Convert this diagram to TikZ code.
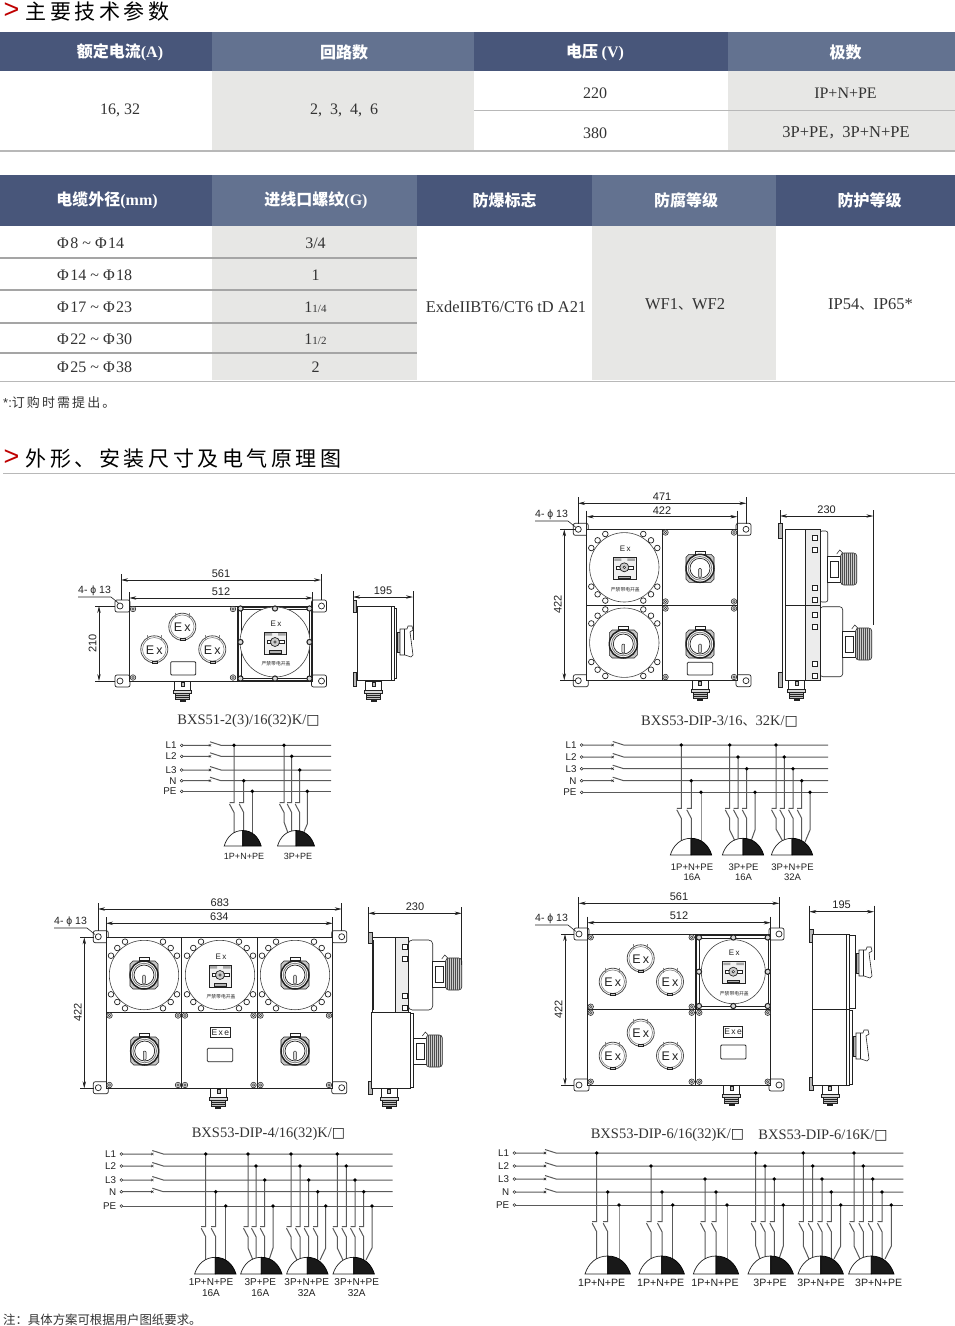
\documentclass[tikz,border=0pt]{standalone}
\usepackage{fontspec}
\setmainfont{Liberation Serif}
\newfontfamily\lsans{Liberation Sans}
\newfontfamily\cjk{Noto Sans CJK SC}
\newfontfamily\cjkt[LetterSpace=17]{Noto Sans CJK SC}
\newfontfamily\cjkn[LetterSpace=16]{Noto Sans CJK SC}
\newfontfamily\dvu{DejaVu Sans}
\usetikzlibrary{arrows.meta}
\definecolor{hdark}{HTML}{48567A}
\definecolor{hlite}{HTML}{637290}
\definecolor{cgrey}{HTML}{E7E7E5}
\definecolor{rule}{HTML}{B8B8B8}
\definecolor{wire}{HTML}{5A5A5A}
\definecolor{ink}{HTML}{222222}
\definecolor{txt}{HTML}{333333}
\newcommand\fs[1]{\fontsize{#1}{#1}\selectfont}
\newcount\nid
\newcommand\lab[4][]{\global\advance\nid by 1 \node[inner sep=0pt,#1] (n\the\nid) at (#2,#3) {#4};}
\newcommand\cell[8]{\fill[#6] (#2,#3) rectangle (#4,#5);
  \node[#7] (#1) at ({(#2+#4)/2},{(#3+#5)/2}) {#8};}
\newcommand\hd[2]{{\cjk\bfseries #1}{\bfseries #2}}
\newcommand\boxsq{{\dvu\color{ink}\fontsize{14}{14}\selectfont □}}
\newcommand\ph{Φ\kern1.5pt}
\tikzset{
  hdt/.style={text=white,inner sep=0pt,font=\fs{16}},
  bdt/.style={text=txt,inner sep=0pt,font=\fs{16}},
  bdl/.style={text=txt,inner sep=0pt,font=\fs{16.5}},
  rowt/.style={text=txt,inner sep=0pt,font=\fs{16},anchor=west,xshift=-49pt,yshift=-1pt},
  dl/.style={line width=.6pt,draw=ink},
  da/.style={line width=.6pt,draw=ink,{Stealth[length=7pt,width=3.4pt]}-{Stealth[length=7pt,width=3.4pt]}},
  dimt/.style={font=\lsans\fs{11},text=ink},
  capt/.style={font=\fs{14.5},text=txt,yshift=-1.6pt},
  part/.style={line width=.7pt,draw=ink,fill=white},
  wr/.style={line width=1pt,draw=wire},
  wl/.style={font=\lsans\fs{9.8},text=ink,anchor=east},
  wt/.style={font=\lsans\fs{9},text=ink},
}
% --- drawing parts
\newcommand\ear[3]{\draw[part,rounded corners=2pt] ({#1-5*#3},{#2-6}) rectangle ({#1+10*#3},{#2+6});
  \draw[part] (#1,#2) circle[radius=3pt];}
\newcommand\screw[2]{\draw[line width=.5pt,draw=ink,fill=gray!40] (#1,#2) circle[radius=2.8pt];
  \draw[line width=.4pt,draw=ink,fill=white] (#1,#2) circle[radius=1.2pt];}
\newcommand\bolt[2]{\draw[line width=1pt,draw=ink,fill=gray!30] (#1,#2) circle[radius=2.6pt];}
\newcommand\ring[2]{\foreach \dx/\dy in {-19/-33.3,19/-33.3,-26.7/-27,26.7/-27,-33/-19.3,33/-19.3,-33/19.3,33/19.3,-26.7/27,26.7/27,-19/33.3,19/33.3}
  {\draw[line width=.7pt,draw=ink,fill=white] ({#1+\dx},{#2+\dy}) circle[radius=2.8pt];}}
\newcommand\disc[3]{\draw[line width=.6pt,draw=ink!85,fill=white] (#1,#2) circle[radius=#3pt];}
\newcommand\exsock[2]{\begin{scope}[shift={(#1,#2)}]
  \draw[line width=.8pt,draw=ink!80,fill=white] (0,0) circle[radius=13.5pt];
  \draw[line width=.6pt,draw=gray] (0,0) circle[radius=11.8pt];
  \draw[line width=.9pt,draw=gray] (-7,-14)--(-7,-9) (7,-14)--(7,-9);
  \draw[line width=.5pt,draw=ink,fill=gray!40] (-2.5,11.5) rectangle (2.5,14);
  \lab{0}{0.5}{\lsans\fs{12.5}\color{ink}E\,x}
\end{scope}}
\newcommand\rotsw[2]{\begin{scope}[shift={(#1,#2)}]
  \draw[line width=.6pt,draw=ink,fill=gray!45] (-11,-14)--(11,-14)--(14,-11)--(14,11)--(11,14)--(-11,14)--(-14,11)--(-14,-11)--cycle;
  \draw[line width=.5pt,draw=ink,fill=white] (-5,-17.5) rectangle (5,-14.5);
  \draw[line width=1.5pt,draw=ink,fill=white] (0,0) circle[radius=14pt];
  \draw[line width=.9pt,draw=gray] (0,0) circle[radius=11.8pt];
  \draw[line width=.7pt,draw=ink] (0,0) circle[radius=10pt];
  \draw[line width=.5pt,draw=ink,fill=gray!30,rounded corners=1pt] (-1.4,0) rectangle (1.4,9);
\end{scope}}
\newcommand\isol[2]{\begin{scope}[shift={(#1,#2)}]
  \lab{1}{-18.5}{\lsans\fs{8}\color{ink}E\,x}
  \draw[line width=.6pt,draw=ink,fill=gray!12] (-11,-10) rectangle (11.5,12);
  \fill[gray!70] (-10,-9) rectangle (-3,-6.5) (3,-9) rectangle (10.5,-6.5);
  \draw[line width=.6pt,draw=ink,fill=white] (-8,-1.5)--(9,-1.5)--(9,1.5)--(-8,1.5)--cycle;
  \draw[line width=.7pt,draw=ink,fill=gray!40] (0,0) circle[radius=4.5pt];
  \draw[line width=.5pt,draw=ink,fill=white] (0,0) circle[radius=1.3pt];
  \draw[line width=.5pt,draw=ink,fill=gray!60] (-6,8.5) rectangle (6,11);
  \lab{1}{22}{\cjk\fs{4.8}\color{ink}严禁带电开盖}
\end{scope}}
\newcommand\plate[4]{\draw[line width=.8pt,draw=ink,fill=white,rounded corners=1pt] (#1,#2) rectangle (#3,#4);}
\newcommand\exe[2]{\draw[line width=.7pt,draw=ink,fill=white] ({#1-9.7},{#2-5.2}) rectangle ({#1+9.7},{#2+5.2});
  \lab{#1}{#2}{\lsans\fs{8.5}\color{ink}E\,x\,e}}
\newcommand\gland[2]{\begin{scope}[shift={(#1,#2)}]
  \draw[part] (-8,0) rectangle (8,9);
  \draw[line width=.5pt,draw=ink,fill=gray!50] (-1.5,1) rectangle (1.5,5);
  \draw[line width=.5pt,draw=ink,fill=gray!30] (-9,9) rectangle (9,12);
  \draw[line width=.5pt,draw=ink,fill=gray!50] (-7,12) rectangle (7,18);
  \draw[line width=.5pt,draw=ink] (-7,14)--(7,14) (-7,16)--(7,16);
  \fill[ink] (-3,18) rectangle (3,21);
\end{scope}}
\newcommand\bigplug[2]{\begin{scope}[shift={(#1,#2)}]
  \draw[part] (0,-13) rectangle (13,13);
  \draw[line width=.5pt,draw=ink] (3,-8) rectangle (11,8);
  \draw[line width=.5pt,draw=ink,fill=white] (9,-15)--(12,-19)--(15,-16);
  \draw[line width=.6pt,draw=ink,fill=gray!40,rounded corners=3pt] (13,-16) rectangle (29,16);
  \foreach \q in {15,17,...,27}{\draw[line width=.7pt,draw=ink!80] (\q,-16)--(\q,16);}
\end{scope}}
\newcommand\flatplug[2]{\begin{scope}[shift={(#1,#2)}]
  \draw[line width=.5pt,draw=ink,fill=gray!60] (0,-10) rectangle (3,10);
  \draw[line width=.6pt,draw=ink,fill=white] (3,-13)--(10,-13)--(11,-16)--(15,-16)--(16,-12)--(13,-10)--(16,13)--(14,15)--(8,13)--(3,13)--cycle;
  \draw[line width=.5pt,draw=ink] (7,-13)--(7,13);
\end{scope}}
\newcommand\sidetab[3]{\draw[line width=.5pt,draw=ink,fill=gray!55] (#1,#2) rectangle ({#1+3.6},#3);}
\newcommand\hdim[6]{\draw[dl] (#1,{#3-6})--(#1,#4) (#2,{#3-6})--(#2,#5);
  \draw[da] (#1,#3)--(#2,#3); \lab[dimt]{{(#1+#2)/2}}{{#3-6.5}}{#6}}
\newcommand\vdim[5]{\draw[dl] ({#1-4},#2)--(#4,#2) ({#1-4},#3)--(#4,#3);
  \draw[da] (#1,#2)--(#1,#3); \lab[dimt,rotate=90]{{#1-6.5}}{{(#2+#3)/2}}{#5}}
\newcommand\leader[3]{\lab[dimt,anchor=west,font=\lsans\fs{10.5}]{#1}{{#2-6.5}}{4- ϕ 13}
  \draw[dl] (#1,#2)--({#1+33},#2)--({#1+41},{#2+6.5});}
% --- wiring parts
\newcommand\bus[5]{% y label xc xs xe
  \lab[wl]{{#3-5}}{#1}{#2}
  \draw[line width=.5pt,draw=ink] (#3,#1) circle[radius=1.4pt];
  \draw[wr] ({#3+1.4},#1)--(#4,#1) (#4,{#1-3.5})--({#4+11},#1)--(#5,#1);
  \draw[line width=.4pt,draw=ink] ({#4-1.2},{#1-1.2})--({#4+1.2},{#1+1.2}) ({#4-1.2},{#1+1.2})--({#4+1.2},{#1-1.2});}
\newcommand\busp[4]{% y label xc xe
  \lab[wl]{{#3-5}}{#1}{#2}
  \draw[line width=.5pt,draw=ink] (#3,#1) circle[radius=1.4pt];
  \draw[wr] ({#3+1.4},#1)--(#4,#1);}
\newcommand\sw[6]{\draw[wr] (#1,#2)--(#1,#3)--({#1-4.5},#3) ({#1-4.5},{#3+1.5})--(#1,{#3+10})--(#1,#4)--(#5,#6);
  \fill[black] (#1,#2) circle[radius=1.9pt];}
\newcommand\pe[5]{\draw[wr] (#1,#2)--(#1,#3)--(#4,#5); \fill[black] (#1,#2) circle[radius=1.9pt];}
\newcommand\dome[4]{\draw[line width=.7pt,draw=ink,fill=white] ({#1-#3},#2) .. controls ({#1-#3*.85},{#2-#4*.6}) and ({#1-#3*.5},{#2-#4}) .. (#1,{#2-#4})--(#1,#2)--cycle;
  \draw[line width=.7pt,draw=black,fill=black!90] ({#1+#3},#2) .. controls ({#1+#3*.85},{#2-#4*.6}) and ({#1+#3*.5},{#2-#4}) .. (#1,{#2-#4})--(#1,#2)--cycle;}
\begin{document}
\begin{tikzpicture}[x=1pt,y=-1pt]
\useasboundingbox (0,0) rectangle (955,1326);
\fill[white] (0,0) rectangle (955,1326);
%%% title 1
\node[font=\lsans\fs{27},text=red!75!black,inner sep=0pt] (gt1) at (11.5,11) {>};
\node[font=\cjkt\fs{21},text=black,inner sep=0pt,anchor=west] (t1) at (25.5,11.5) {主要技术参数};
%%% table 1
\cell{a1}{0}{32}{212}{71}{hdark}{hdt,xshift=14pt,yshift=-1pt}{\hd{额定电流}{(A)}}
\cell{a2}{212}{32}{474}{71}{hlite}{hdt,xshift=1pt,yshift=-1pt}{\hd{回路数}{}}
\cell{a3}{474}{32}{728}{71}{hdark}{hdt,xshift=-6pt,yshift=-1pt}{\hd{电压 }{(V)}}
\cell{a4}{728}{32}{955}{71}{hlite}{hdt,xshift=4pt,yshift=-1pt}{\hd{极数}{}}
\cell{b1}{0}{71}{212}{150}{white}{bdt,xshift=14pt}{16, 32}
\cell{b2}{212}{71}{474}{150}{cgrey}{bdt,xshift=1pt}{2,\ \ 3,\ \ 4,\ \ 6}
\cell{b3}{474}{71}{728}{110}{white}{bdt,xshift=-6pt,yshift=-2.5pt}{220}
\cell{b4}{728}{71}{955}{110}{cgrey}{bdt,xshift=4pt,yshift=-2.5pt}{IP+N+PE}
\cell{c3}{474}{111}{728}{150}{white}{bdt,xshift=-6pt,yshift=-2.5pt}{380}
\cell{c4}{728}{111}{955}{150}{cgrey}{bdl,xshift=4.5pt,yshift=-2.5pt}{3P+PE{\cjk\fs{14}，}3P+N+PE}
\draw[rule,line width=1pt] (474,110.5)--(955,110.5);
\draw[rule,line width=1.3pt] (0,151)--(955,151);
%%% table 2
\cell{d1}{0}{175}{212}{226}{hdark}{hdt,xshift=1pt}{\hd{电缆外径}{(mm)}}
\cell{d2}{212}{175}{417}{226}{hlite}{hdt,xshift=1.5pt}{\hd{进线口螺纹}{(G)}}
\cell{d3}{417}{175}{592}{226}{hdark}{hdt}{\hd{防爆标志}{}}
\cell{d4}{592}{175}{776}{226}{hlite}{hdt,xshift=2pt}{\hd{防腐等级}{}}
\cell{d5}{776}{175}{955}{226}{hdark}{hdt,xshift=4pt}{\hd{防护等级}{}}
\cell{e1}{0}{226}{212}{258}{white}{rowt}{\ph 8 \textasciitilde{} \ph 14}
\cell{f1}{0}{258}{212}{290}{white}{rowt}{\ph 14 \textasciitilde{} \ph 18}
\cell{g1}{0}{290}{212}{323}{white}{rowt}{\ph 17 \textasciitilde{} \ph 23}
\cell{h1}{0}{323}{212}{353}{white}{rowt}{\ph 22 \textasciitilde{} \ph 30}
\cell{i1}{0}{353}{212}{380}{white}{rowt}{\ph 25 \textasciitilde{} \ph 38}
\cell{e2}{212}{226}{417}{258}{cgrey}{bdt,xshift=1pt,yshift=-1pt}{3/4}
\cell{f2}{212}{258}{417}{290}{cgrey}{bdt,xshift=1pt,yshift=-1pt}{1}
\cell{g2}{212}{290}{417}{323}{cgrey}{bdt,xshift=1pt,yshift=-1pt}{1{\fs{11}1/4}}
\cell{h2}{212}{323}{417}{353}{cgrey}{bdt,xshift=1pt,yshift=-1pt}{1{\fs{11}1/2}}
\cell{i2}{212}{353}{417}{380}{cgrey}{bdt,xshift=1pt,yshift=-1pt}{2}
\cell{e3}{417}{226}{592}{380}{white}{bdt,font=\fs{16.4},xshift=1.5pt,yshift=-3.5pt}{ExdeIIBT6/CT6 tD A21}
\cell{e4}{592}{226}{776}{380}{cgrey}{bdl,xshift=1pt,yshift=-1.5pt}{WF1{\cjk\fs{14}、}WF2}
\cell{e5}{776}{226}{955}{380}{white}{bdl,xshift=5pt,yshift=-1.5pt}{IP54{\cjk\fs{14}、}IP65*}
\foreach \yy in {258,290,323,353}{\draw[rule!90!black,line width=1.2pt] (0,\yy)--(417,\yy);}
\draw[rule,line width=1pt] (0,381)--(955,381);
\node[font=\cjkn\fs{13},text=txt,inner sep=0pt,anchor=west] (note1) at (3,402.5) {{\lsans *:}订购时需提出。};
%%% title 2
\node[font=\lsans\fs{27},text=red!75!black,inner sep=0pt] (gt2) at (11.5,458) {>};
\node[font=\cjkt\fs{21},text=black,inner sep=0pt,anchor=west] (t2) at (25.5,458.5) {外形、安装尺寸及电气原理图};
\draw[rule,line width=1pt] (3,473.5)--(955,473.5);

%%%%%%%%% Drawing 1
\ear{120}{606}{1}\ear{321.5}{606}{-1}\ear{120}{681}{1}\ear{321.5}{681}{-1}
\gland{182.7}{681}
\draw[line width=.9pt,draw=ink,fill=white] (129.3,606) rectangle (312.7,681);
\draw[line width=.9pt,draw=ink] (237,606)--(237,681);
\draw[line width=1.4pt,draw=ink] (238.5,607) rectangle (312,680.5);
\draw[line width=.5pt,draw=ink] (241,609) rectangle (309,678);
\disc{275}{642}{35}
\foreach \q/\r in {240.5/608.5,275/608.5,309.5/608.5,240.5/642,309.5/642,240.5/678.5,275/678.5,309.5/678.5}{\bolt{\q}{\r}}
\screw{133}{609}\screw{233}{609}\screw{133}{677.5}\screw{233}{677.5}
\isol{275}{642}
\exsock{182.3}{626.7}\exsock{154.3}{649.3}\exsock{212.3}{649.3}
\plate{170.7}{661.7}{195.7}{675}
\hdim{121}{321}{580}{600}{600}{561}
\hdim{129.3}{312.7}{598}{606}{606}{512}
\vdim{99}{606}{681}{115}{210}
\leader{78}{597}{}
% side 1
\sidetab{353}{600}{612}\sidetab{353}{672}{686}
\gland{373.5}{681}
\draw[part] (357,606) rectangle (394,680);
\draw[line width=.5pt,draw=ink] (391,606)--(391,680);
\draw[line width=.5pt,draw=ink,fill=white] (394,608) rectangle (396.5,678);
\flatplug{397}{642}
\hdim{353}{413}{597}{600}{640}{195}
\node[capt] (cap1) at (248.5,719) {BXS51-2(3)/16(32)K/\boxsq};
%%% Wiring 1
\bus{745.3}{L1}{181.7}{210}{331}\bus{756.3}{L2}{181.7}{210}{331}\bus{770}{L3}{181.7}{210}{331}\bus{780.7}{N}{181.7}{210}{331}\busp{791.3}{PE}{181.7}{331}
\sw{234}{745.3}{802.5}{832}{234}{833}\sw{243.7}{780.7}{802.5}{832}{243.7}{833}\pe{252.3}{791.3}{832}{252.3}{833}
\sw{284}{745.3}{802.5}{822}{288}{833}\sw{291.7}{756.3}{802.5}{832}{291.7}{833}\sw{299.7}{770}{802.5}{832}{299.7}{833}\pe{307.3}{791.3}{824}{303}{834}
\dome{242.7}{846}{18.5}{15.5}\dome{296}{846}{18.5}{15.5}
\lab[wt]{244}{856.5}{1P+N+PE}\lab[wt]{298}{856.5}{3P+PE}

%%%%%%%%% Drawing 2
\ear{578.3}{529.3}{1}\ear{746}{529.3}{-1}\ear{578.3}{680.7}{1}\ear{746}{680.7}{-1}
\gland{700}{680.3}
\draw[line width=.9pt,draw=ink,fill=white] (586.7,529.3) rectangle (737.3,680.3);
\draw[line width=.9pt,draw=ink] (662,529.3)--(662,680.3) (586.7,605)--(737.3,605);
\disc{624.3}{567.3}{34.7}\disc{624.3}{642.7}{34.7}
\ring{624.3}{567.3}\ring{624.3}{642.7}
\isol{624.3}{567.3}
\rotsw{700}{568.3}\rotsw{623.3}{644}\rotsw{700}{644}
\foreach \q/\r in {665.5/532.5,734/532.5,665.5/601.5,734/601.5,665.5/608.5,734/608.5,665.5/677,734/677}{\screw{\q}{\r}}
\plate{687.3}{662.3}{712.7}{675}
\hdim{578}{746.3}{503.3}{524}{524}{471}
\hdim{586.7}{737.3}{516.7}{529}{529}{422}
\vdim{564.3}{529.3}{680.3}{575}{422}
\leader{535}{521}{}
% side 2
\sidetab{778.3}{523}{538}\sidetab{778.3}{672}{687}
\gland{796.5}{680.3}
\draw[part] (785,529.3) rectangle (805.5,680.3);
\draw[line width=.5pt,draw=ink] (785,605)--(820,605);
\draw[line width=.5pt,draw=ink] (782,533)--(782,676);
\draw[line width=.6pt,draw=ink,fill=white,rounded corners=2pt] (820,531) rectangle (827.7,602);
\draw[line width=.6pt,draw=ink,fill=white,rounded corners=3pt] (820,606.7) rectangle (842.7,676.7);
\draw[line width=.9pt,draw=ink,fill=gray!15] (805.5,529.3) rectangle (820,605);
\draw[line width=.9pt,draw=ink,fill=gray!15] (805.5,605) rectangle (820,680.3);
\foreach \r in {535,547,585,597,612,624,661,673}{\draw[line width=.5pt,draw=ink,fill=white] (812,\r) rectangle (817,{\r+5});}
\bigplug{827.7}{569}\bigplug{842.7}{644}
\hdim{780}{873.3}{516}{524}{625}{230}
\node[capt] (cap2) at (719.5,720) {BXS53-DIP-3/16{\cjk\fs{13}、}32K/\boxsq};
%%% Wiring 2
\tikzset{wt/.style={font=\lsans\fs{9.5},text=ink}}
\bus{745}{L1}{581.7}{612.7}{828}\bus{757}{L2}{581.7}{612.7}{828}\bus{768.7}{L3}{581.7}{612.7}{828}\bus{780.7}{N}{581.7}{612.7}{828}\busp{792.3}{PE}{581.7}{828}
\sw{681.3}{745}{808.3}{842}{681.3}{843}\sw{691.3}{780.7}{808.3}{842}{691.3}{843}\pe{701}{792.3}{842}{701}{843}
\sw{729.7}{745}{808.3}{830}{735}{841}\sw{738}{757}{808.3}{842}{738}{843}\sw{746.7}{768.7}{808.3}{842}{746.7}{843}\pe{755}{792.3}{830}{750.7}{842}
\sw{776}{745}{808.3}{829}{782.7}{841}\sw{784.3}{757}{808.3}{842}{784.3}{843}\sw{793}{768.7}{808.3}{842}{793}{843}\sw{801.7}{780.7}{808.3}{838}{801}{843}\pe{810}{792.3}{830}{805}{842}
\dome{691}{855}{20.7}{16.7}\dome{743}{855}{20.7}{16.7}\dome{792}{855}{20.7}{16.7}
\lab[wt]{692}{867}{1P+N+PE}\lab[wt]{692}{877.5}{16A}
\lab[wt]{743.5}{867}{3P+PE}\lab[wt]{743.5}{877.5}{16A}
\lab[wt]{792.5}{867}{3P+N+PE}\lab[wt]{792.5}{877.5}{32A}

%%%%%%%%% Drawing 3
\ear{98.3}{936.7}{1}\ear{341.7}{936.7}{-1}\ear{98.3}{1087.7}{1}\ear{341.7}{1087.7}{-1}
\gland{218.3}{1088.3}
\draw[line width=.9pt,draw=ink,fill=white] (106,937.3) rectangle (332.7,1088.3);
\draw[line width=.9pt,draw=ink] (181.7,937.3)--(181.7,1088.3) (257.3,937.3)--(257.3,1088.3);
\draw[line width=1.2pt,draw=ink] (106,1012.3)--(332.7,1012.3);
\disc{144}{975}{34.7}\disc{220}{975}{34.7}\disc{295}{975}{34.7}
\ring{144}{975}\ring{220}{975}\ring{295}{975}
\rotsw{144}{975}\rotsw{295}{975}\isol{220}{975}
\rotsw{144.7}{1051}\rotsw{295}{1051}
\foreach \q/\r in {109.5/1015.5,178/1015.5,185/1015.5,253.5/1015.5,260.5/1015.5,329/1015.5,109.5/1085,178/1085,185/1085,253.5/1085,260.5/1085,329/1085}{\screw{\q}{\r}}
\exe{220.3}{1032.5}
\plate{207.3}{1048.3}{232.7}{1061.7}
\hdim{98}{341.7}{909}{931}{931}{683}
\hdim{106}{332.7}{923.3}{937}{937}{634}
\vdim{84.3}{937.3}{1088.3}{94}{422}
\leader{54}{928}{}
% side 3
\sidetab{368.3}{932}{943}\sidetab{368.3}{1081}{1094}
\gland{389}{1088.3}
\draw[part] (372,937.3) rectangle (395,1012.3);
\draw[line width=.5pt,draw=ink] (373.5,940)--(373.5,1010);
\draw[line width=.6pt,draw=ink,fill=white,rounded corners=4pt] (408.3,940) rectangle (432.7,1010);
\draw[line width=.9pt,draw=ink,fill=gray!15] (395,937.3) rectangle (408.3,1012.3);
\foreach \r in {944,956,993,1005}{\draw[line width=.5pt,draw=ink,fill=white] (402,\r) rectangle (407,{\r+5});}
\draw[part] (371.7,1012.3) rectangle (410,1088.3);
\draw[line width=.6pt,draw=ink,fill=white] (410,1013) rectangle (413.3,1087);
\bigplug{432.7}{974}\bigplug{413.3}{1051}
\hdim{368.3}{461.7}{913.3}{932}{965}{230}
\node[capt] (cap3) at (268.5,1132) {BXS53-DIP-4/16(32)K/\boxsq};
%%% Wiring 3
\tikzset{wt/.style={font=\lsans\fs{10},text=ink}}
\bus{1154}{L1}{121.3}{152.3}{392.7}\bus{1166}{L2}{121.3}{152.3}{392.7}\bus{1180}{L3}{121.3}{152.3}{392.7}\bus{1191.7}{N}{121.3}{152.3}{392.7}\busp{1206}{PE}{121.3}{392.7}
\sw{205.7}{1154}{1226.7}{1262}{205.7}{1263}\sw{215.7}{1191.7}{1226.7}{1262}{215.7}{1263}\pe{225.7}{1206}{1262}{225.7}{1263}
\sw{248}{1154}{1226.7}{1248}{253}{1260}\sw{256}{1166}{1226.7}{1262}{256}{1263}\sw{264.7}{1180}{1226.7}{1262}{264.7}{1263}\pe{273}{1206}{1248}{269}{1260}
\sw{291}{1154}{1226.7}{1248}{297}{1260}\sw{300}{1166}{1226.7}{1262}{300}{1263}\sw{308.7}{1180}{1226.7}{1262}{308.7}{1263}\sw{317.7}{1191.7}{1226.7}{1258}{317}{1263}\pe{325.7}{1206}{1248}{320}{1260}
\sw{337.3}{1154}{1226.7}{1248}{343}{1260}\sw{346.3}{1166}{1226.7}{1262}{346.3}{1263}\sw{355}{1180}{1226.7}{1262}{355}{1263}\sw{363.7}{1191.7}{1226.7}{1258}{363}{1263}\pe{372}{1206}{1248}{366}{1260}
\dome{215.3}{1274}{20.7}{16.7}\dome{261.3}{1274}{20.7}{16.7}\dome{307.3}{1274}{20.7}{16.7}\dome{353.7}{1274}{20.7}{16.7}
\lab[wt]{211}{1282}{1P+N+PE}\lab[wt]{211}{1293}{16A}
\lab[wt]{260.3}{1282}{3P+PE}\lab[wt]{260.3}{1293}{16A}
\lab[wt]{306.7}{1282}{3P+N+PE}\lab[wt]{306.7}{1293}{32A}
\lab[wt]{356.7}{1282}{3P+N+PE}\lab[wt]{356.7}{1293}{32A}

%%%%%%%%% Drawing 4
\ear{579}{934}{1}\ear{779}{934}{-1}\ear{579}{1085}{1}\ear{779}{1085}{-1}
\gland{731.7}{1085}
\draw[line width=.9pt,draw=ink,fill=white] (587.3,934) rectangle (770.7,1085);
\draw[line width=.9pt,draw=ink] (695.7,1009.3)--(695.7,1085);
\draw[line width=1pt,draw=ink] (587.3,1009.3)--(770.7,1009.3);
\draw[line width=1.4pt,draw=ink] (696,935) rectangle (770.7,1009.3);
\draw[line width=.5pt,draw=ink] (699,938) rectangle (768,1006.5);
\disc{733.3}{971.7}{32}
\foreach \q/\r in {699/937.5,733.3/937.5,767.7/937.5,699/971.7,767.7/971.7,699/1006,733.3/1006,767.7/1006}{\bolt{\q}{\r}}
\isol{733.3}{971.7}
\foreach \q/\r in {590.7/937.3,691.7/937.3,590.7/1006.7,691.7/1006.7,590.7/1012.7,691.7/1012.7,590.7/1081.7,691.7/1081.7,699.3/1012.7,767.7/1012.7,699.3/1081.7,767.7/1081.7}{\screw{\q}{\r}}
\exsock{640.7}{958.3}\exsock{612.7}{981.7}\exsock{670}{981.7}
\exsock{640.7}{1032.7}\exsock{612.7}{1055.7}\exsock{670}{1055.7}
\exe{733}{1032}
\plate{720.7}{1045}{746}{1059}
\hdim{578.7}{779.3}{903.3}{928}{928}{561}
\hdim{587.3}{770.7}{922.7}{934}{934}{512}
\vdim{565}{934}{1085}{574}{422}
\leader{535}{925}{}
% side 4
\sidetab{809.3}{929}{942}\sidetab{809.3}{1077}{1090}
\gland{830}{1085}
\draw[part] (812.7,934) rectangle (849.3,1085);
\draw[line width=.6pt,draw=ink] (812.7,1009.3)--(849.3,1009.3);
\draw[line width=.5pt,draw=ink] (846.5,934)--(846.5,1085);
\draw[line width=.5pt,draw=ink,fill=white] (849.3,935) rectangle (855,1008);
\draw[line width=.5pt,draw=ink,fill=white] (849.3,1010.5) rectangle (852,1084);
\flatplug{856}{963}\flatplug{853}{1046}
\hdim{809.3}{874}{911.7}{929}{960}{195}
\node[capt] (cap4a) at (667.5,1133) {BXS53-DIP-6/16(32)K/\boxsq};
\node[capt] (cap4b) at (823,1134) {BXS53-DIP-6/16K/\boxsq};
%%% Wiring 4
\tikzset{wt/.style={font=\lsans\fs{10.6},text=ink}}
\bus{1153}{L1}{514.3}{545}{903.3}\bus{1166}{L2}{514.3}{545}{903.3}\bus{1179}{L3}{514.3}{545}{903.3}\bus{1192}{N}{514.3}{545}{903.3}\busp{1205}{PE}{514.3}{903.3}
\sw{596.7}{1153}{1221.7}{1262}{596.7}{1263}\sw{607.7}{1192}{1221.7}{1262}{607.7}{1263}\pe{619}{1205}{1262}{619}{1263}
\sw{651}{1166}{1221.7}{1262}{651}{1263}\sw{662}{1192}{1221.7}{1262}{662}{1263}\pe{672.7}{1205}{1262}{672.7}{1263}
\sw{705}{1179}{1221.7}{1262}{705}{1263}\sw{716}{1192}{1221.7}{1262}{716}{1263}\pe{727}{1205}{1262}{727}{1263}
\sw{755.7}{1153}{1221.7}{1246}{760}{1259}\sw{765}{1166}{1221.7}{1262}{765}{1263}\sw{774.3}{1179}{1221.7}{1262}{774.3}{1263}\pe{783.3}{1205}{1246}{779}{1259}
\sw{803.3}{1153}{1221.7}{1246}{809}{1259}\sw{812.7}{1166}{1221.7}{1262}{812.7}{1263}\sw{822}{1179}{1221.7}{1262}{822}{1263}\sw{831.3}{1192}{1221.7}{1262}{830}{1263}\pe{840.7}{1205}{1246}{834}{1259}
\sw{854}{1153}{1221.7}{1246}{860}{1259}\sw{863.3}{1166}{1221.7}{1262}{863.3}{1263}\sw{872.7}{1179}{1221.7}{1262}{872.7}{1263}\sw{882}{1192}{1221.7}{1262}{881}{1263}\pe{891.3}{1205}{1246}{885}{1259}
\dome{607.7}{1274}{22.7}{18}\dome{661.7}{1274}{22.7}{18}\dome{716}{1274}{22.7}{18}\dome{770.7}{1274}{22.7}{18}\dome{820.7}{1274}{22.7}{18}\dome{871.3}{1274}{22.7}{18}
\lab[wt]{601.7}{1283}{1P+N+PE}\lab[wt]{660.7}{1283}{1P+N+PE}\lab[wt]{715}{1283}{1P+N+PE}
\lab[wt]{770}{1283}{3P+PE}\lab[wt]{821}{1283}{3P+N+PE}\lab[wt]{878.7}{1283}{3P+N+PE}
%%% footer
\node[font=\cjk\fs{12.4},text=txt,inner sep=0pt,anchor=west] (foot) at (3,1320) {注：具体方案可根据用户图纸要求。};
\end{tikzpicture}
\end{document}
